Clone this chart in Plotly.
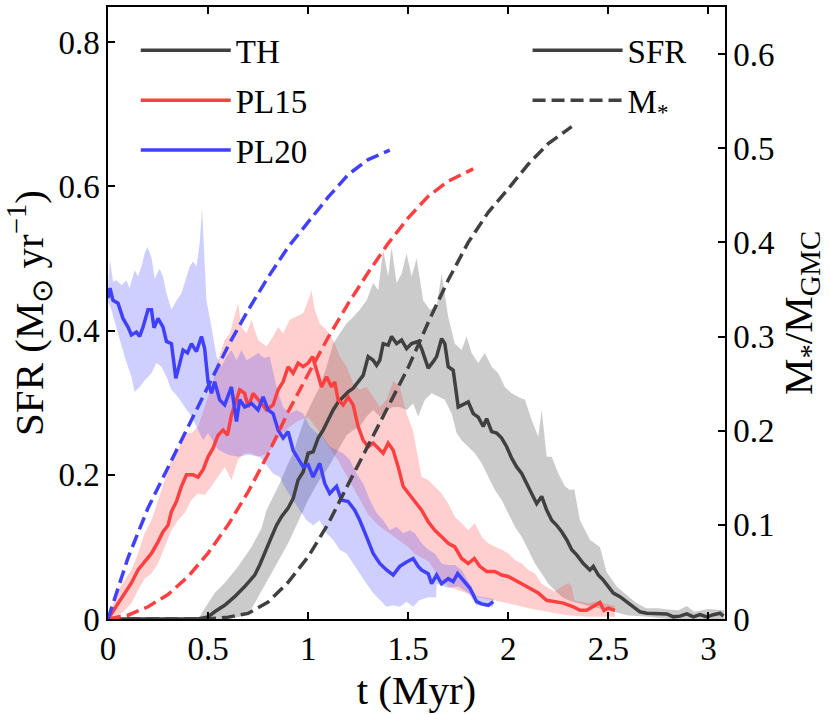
import plotly.graph_objects as go

# --- SFR (Msun/yr), solid lines ---
t_th = [0, 0.45, 0.5, 0.533, 0.583, 0.633, 0.683, 0.733, 0.758, 0.792, 0.817, 0.842, 0.867, 0.9, 0.925, 0.95,
        0.975, 1.0, 1.025, 1.05, 1.075, 1.1, 1.125, 1.15, 1.175, 1.2, 1.225, 1.25, 1.275, 1.3, 1.325, 1.342,
        1.358, 1.375, 1.4, 1.417, 1.442, 1.467, 1.492, 1.517, 1.55, 1.567, 1.6, 1.625, 1.642, 1.667, 1.683,
        1.7, 1.725, 1.75, 1.775, 1.8, 1.825, 1.85, 1.875, 1.892, 1.917, 1.942, 1.967, 1.992, 2.017, 2.042,
        2.067, 2.092, 2.117, 2.142, 2.167, 2.192, 2.217, 2.242, 2.267, 2.292, 2.317, 2.342, 2.375, 2.408,
        2.425, 2.45, 2.475, 2.5, 2.525, 2.558, 2.592, 2.625, 2.658, 2.692, 2.742, 2.792, 2.825, 2.858, 2.892,
        2.925, 2.958, 2.992, 3.025, 3.058, 3.075]
sfr_th = [0, 0, 0.003, 0.010, 0.019, 0.031, 0.045, 0.061, 0.075, 0.096, 0.114, 0.130, 0.142, 0.154, 0.167,
          0.193, 0.204, 0.230, 0.232, 0.251, 0.262, 0.276, 0.290, 0.301, 0.308, 0.315, 0.320, 0.329, 0.338,
          0.364, 0.359, 0.352, 0.359, 0.382, 0.380, 0.392, 0.382, 0.387, 0.375, 0.382, 0.385, 0.375, 0.348,
          0.357, 0.364, 0.389, 0.382, 0.350, 0.345, 0.294, 0.297, 0.301, 0.285, 0.280, 0.267, 0.278, 0.260,
          0.258, 0.251, 0.239, 0.223, 0.211, 0.202, 0.188, 0.174, 0.160, 0.170, 0.151, 0.137, 0.130, 0.121,
          0.110, 0.096, 0.089, 0.077, 0.068, 0.073, 0.061, 0.054, 0.045, 0.036, 0.031, 0.024, 0.017, 0.010,
          0.008, 0.008, 0.007, 0.003, 0.004, 0.007, 0.003, 0.006, 0.003, 0.006, 0.008, 0.004]

t_pl15 = [0, 0.05, 0.083, 0.117, 0.15, 0.183, 0.217, 0.25, 0.275, 0.3, 0.317, 0.342, 0.367, 0.392, 0.425, 0.45,
          0.475, 0.5, 0.525, 0.55, 0.575, 0.597, 0.617, 0.642, 0.658, 0.683, 0.7, 0.725, 0.75, 0.792, 0.825,
          0.85, 0.875, 0.9, 0.925, 0.95, 0.975, 1.0, 1.022, 1.042, 1.067, 1.092, 1.117, 1.133, 1.15, 1.175,
          1.2, 1.225, 1.25, 1.275, 1.3, 1.325, 1.35, 1.375, 1.4, 1.425, 1.45, 1.475, 1.508, 1.533, 1.567, 1.6,
          1.633, 1.667, 1.7, 1.733, 1.767, 1.8, 1.83, 1.858, 1.892, 1.933, 1.967, 2.0, 2.033, 2.067, 2.108,
          2.15, 2.192, 2.233, 2.275, 2.325, 2.358, 2.392, 2.425, 2.458, 2.478, 2.5, 2.533]
sfr_pl15 = [0, 0.022, 0.036, 0.050, 0.068, 0.079, 0.091, 0.107, 0.121, 0.130, 0.149, 0.163, 0.184, 0.200,
            0.200, 0.197, 0.207, 0.225, 0.237, 0.255, 0.262, 0.255, 0.283, 0.304, 0.318, 0.313, 0.294, 0.313,
            0.304, 0.290, 0.297, 0.318, 0.329, 0.350, 0.341, 0.355, 0.350, 0.355, 0.364, 0.345, 0.322, 0.336,
            0.322, 0.329, 0.304, 0.297, 0.308, 0.297, 0.267, 0.248, 0.239, 0.244, 0.237, 0.230, 0.244, 0.234,
            0.211, 0.184, 0.172, 0.163, 0.151, 0.135, 0.123, 0.114, 0.105, 0.100, 0.084, 0.077, 0.084, 0.073,
            0.066, 0.066, 0.061, 0.059, 0.054, 0.049, 0.043, 0.036, 0.026, 0.024, 0.022, 0.017, 0.012, 0.012,
            0.017, 0.023, 0.012, 0.015, 0.012]

t_pl20 = [0, 0.01, 0.025, 0.05, 0.075, 0.1, 0.117, 0.142, 0.158, 0.175, 0.2, 0.217, 0.23, 0.25, 0.275, 0.292,
          0.317, 0.339, 0.359, 0.375, 0.397, 0.417, 0.442, 0.467, 0.483, 0.5, 0.517, 0.533, 0.558, 0.583,
          0.617, 0.642, 0.658, 0.683, 0.717, 0.75, 0.775, 0.8, 0.825, 0.85, 0.875, 0.9, 0.925, 0.95, 0.975,
          1.0, 1.025, 1.058, 1.083, 1.108, 1.142, 1.167, 1.2, 1.233, 1.258, 1.292, 1.325, 1.358, 1.392, 1.425,
          1.458, 1.492, 1.525, 1.55, 1.567, 1.6, 1.617, 1.642, 1.667, 1.7, 1.725, 1.747, 1.775, 1.808, 1.842,
          1.867, 1.9, 1.925]
sfr_pl20 = [0.445, 0.459, 0.442, 0.438, 0.417, 0.405, 0.394, 0.398, 0.392, 0.405, 0.429, 0.429, 0.404, 0.417,
            0.405, 0.385, 0.382, 0.334, 0.355, 0.373, 0.369, 0.382, 0.371, 0.392, 0.375, 0.329, 0.313, 0.329,
            0.304, 0.297, 0.322, 0.274, 0.304, 0.294, 0.299, 0.290, 0.308, 0.290, 0.285, 0.262, 0.251, 0.260,
            0.234, 0.223, 0.211, 0.214, 0.197, 0.216, 0.188, 0.174, 0.184, 0.165, 0.163, 0.151, 0.137, 0.114,
            0.091, 0.077, 0.068, 0.061, 0.073, 0.079, 0.084, 0.073, 0.068, 0.063, 0.049, 0.061, 0.049, 0.056,
            0.052, 0.063, 0.054, 0.043, 0.024, 0.021, 0.019, 0.024]

# --- SFR spread (upper / lower envelopes) ---
th_hi_t = [0.45, 0.533, 0.583, 0.65, 0.717, 0.767, 0.792, 0.825, 0.858, 0.892, 0.925, 0.958, 0.992, 1.025,
           1.058, 1.092, 1.125, 1.158, 1.192, 1.225, 1.258, 1.292, 1.325, 1.35, 1.375, 1.4, 1.417, 1.442,
           1.467, 1.492, 1.517, 1.542, 1.575, 1.608, 1.642, 1.667, 1.683, 1.7, 1.733, 1.767, 1.792, 1.817,
           1.85, 1.883, 1.917, 1.95, 1.983, 2.017, 2.05, 2.083, 2.117, 2.15, 2.167, 2.192, 2.217, 2.25, 2.283,
           2.308, 2.33, 2.358, 2.408, 2.458, 2.492, 2.542, 2.592, 2.642, 2.69, 2.75, 2.81, 2.85, 2.892, 2.93,
           3.0, 3.08]
th_hi = [0, 0.036, 0.050, 0.073, 0.100, 0.126, 0.151, 0.170, 0.188, 0.211, 0.230, 0.258, 0.285, 0.304, 0.322,
         0.350, 0.382, 0.396, 0.410, 0.419, 0.429, 0.442, 0.466, 0.456, 0.512, 0.475, 0.516, 0.466, 0.479,
         0.507, 0.475, 0.500, 0.442, 0.429, 0.433, 0.479, 0.447, 0.419, 0.382, 0.373, 0.392, 0.369, 0.355,
         0.369, 0.350, 0.341, 0.322, 0.313, 0.308, 0.304, 0.276, 0.253, 0.290, 0.225, 0.225, 0.202, 0.184,
         0.179, 0.180, 0.137, 0.110, 0.100, 0.065, 0.045, 0.033, 0.022, 0.015, 0.015, 0.013, 0.012, 0.018,
         0.010, 0.014, 0.012]
th_lo_t = [0.45, 0.6, 0.658, 0.717, 0.758, 0.8, 0.85, 0.9, 0.95, 1.0, 1.05, 1.1, 1.15, 1.192, 1.225, 1.258,
           1.292, 1.325, 1.358, 1.392, 1.425, 1.458, 1.492, 1.525, 1.55, 1.583, 1.617, 1.65, 1.683, 1.717,
           1.742, 1.767, 1.8, 1.833, 1.867, 1.9, 1.933, 1.967, 2.0, 2.033, 2.067, 2.1, 2.133, 2.167, 2.2,
           2.233, 2.267, 2.3, 2.4, 2.5, 2.6, 2.7, 2.8, 3.08]
th_lo = [0, 0, 0.003, 0.014, 0.033, 0.055, 0.080, 0.105, 0.135, 0.165, 0.190, 0.210, 0.235, 0.255, 0.262,
         0.267, 0.281, 0.290, 0.281, 0.290, 0.294, 0.294, 0.290, 0.299, 0.281, 0.304, 0.313, 0.308, 0.304,
         0.285, 0.258, 0.248, 0.239, 0.230, 0.216, 0.197, 0.179, 0.165, 0.147, 0.128, 0.114, 0.096, 0.077,
         0.063, 0.049, 0.040, 0.031, 0.026, 0.018, 0.012, 0.005, 0.003, 0, 0]

pl15_hi_t = [0, 0.05, 0.083, 0.117, 0.15, 0.183, 0.217, 0.25, 0.283, 0.317, 0.35, 0.383, 0.417, 0.45, 0.483,
             0.517, 0.55, 0.583, 0.608, 0.633, 0.65, 0.667, 0.692, 0.717, 0.75, 0.792, 0.825, 0.85, 0.875,
             0.908, 0.942, 0.975, 1.0, 1.017, 1.033, 1.058, 1.092, 1.125, 1.158, 1.192, 1.225, 1.258, 1.292,
             1.325, 1.358, 1.392, 1.425, 1.458, 1.492, 1.525, 1.55, 1.567, 1.6, 1.633, 1.667, 1.7, 1.733,
             1.767, 1.8, 1.833, 1.867, 1.9, 1.933, 1.967, 2.0, 2.033, 2.067, 2.1, 2.133, 2.167, 2.2, 2.233,
             2.267, 2.3, 2.317, 2.33, 2.4, 2.45, 2.5, 2.533]
pl15_hi = [0, 0.040, 0.054, 0.068, 0.091, 0.119, 0.137, 0.165, 0.193, 0.221, 0.234, 0.258, 0.258, 0.267,
           0.294, 0.322, 0.359, 0.387, 0.396, 0.419, 0.438, 0.405, 0.396, 0.415, 0.387, 0.378, 0.392, 0.405,
           0.396, 0.415, 0.419, 0.424, 0.442, 0.456, 0.429, 0.410, 0.401, 0.387, 0.364, 0.350, 0.327, 0.318,
           0.322, 0.308, 0.294, 0.304, 0.330, 0.322, 0.285, 0.260, 0.220, 0.197, 0.193, 0.184, 0.174, 0.160,
           0.142, 0.133, 0.123, 0.133, 0.114, 0.105, 0.100, 0.096, 0.091, 0.082, 0.077, 0.068, 0.063, 0.049,
           0.043, 0.038, 0.045, 0.050, 0.045, 0.026, 0.022, 0.025, 0.020, 0.018]
pl15_lo_t = [0, 0.05, 0.083, 0.117, 0.15, 0.183, 0.217, 0.25, 0.283, 0.317, 0.35, 0.383, 0.417, 0.45, 0.483,
             0.517, 0.55, 0.583, 0.617, 0.65, 0.683, 0.717, 0.75, 0.8, 0.85, 0.9, 0.95, 1.0, 1.05, 1.1, 1.15,
             1.2, 1.25, 1.3, 1.35, 1.4, 1.45, 1.5, 1.533, 1.567, 1.6, 1.65, 1.7, 1.75, 1.8, 1.85, 1.9, 2.0,
             2.1, 2.2, 2.3, 2.4, 2.533]
pl15_lo = [0, 0.003, 0.012, 0.022, 0.040, 0.056, 0.063, 0.077, 0.100, 0.123, 0.137, 0.147, 0.165, 0.174,
           0.172, 0.184, 0.197, 0.211, 0.193, 0.221, 0.230, 0.230, 0.225, 0.230, 0.250, 0.265, 0.275, 0.280,
           0.262, 0.240, 0.220, 0.195, 0.170, 0.145, 0.130, 0.120, 0.110, 0.100, 0.090, 0.085, 0.080, 0.060,
           0.045, 0.040, 0.035, 0.030, 0.028, 0.022, 0.015, 0.010, 0.005, 0.003, 0.003]

pl20_hi_t = [0, 0.01, 0.025, 0.042, 0.067, 0.092, 0.108, 0.133, 0.15, 0.167, 0.183, 0.197, 0.217, 0.233,
             0.258, 0.275, 0.292, 0.317, 0.342, 0.367, 0.383, 0.408, 0.425, 0.442, 0.458, 0.47, 0.48, 0.492,
             0.517, 0.542, 0.567, 0.592, 0.617, 0.642, 0.667, 0.692, 0.725, 0.75, 0.78, 0.808, 0.842, 0.875,
             0.908, 0.942, 0.975, 1.008, 1.042, 1.075, 1.108, 1.142, 1.175, 1.208, 1.242, 1.275, 1.308, 1.342,
             1.375, 1.408, 1.442, 1.475, 1.508, 1.533, 1.567, 1.6, 1.633, 1.667, 1.7, 1.733, 1.767, 1.8, 1.842,
             1.925]
pl20_hi = [0.46, 0.498, 0.468, 0.470, 0.463, 0.470, 0.459, 0.484, 0.475, 0.489, 0.507, 0.516, 0.502, 0.472,
           0.486, 0.475, 0.452, 0.429, 0.442, 0.452, 0.466, 0.489, 0.496, 0.489, 0.521, 0.570, 0.512, 0.442,
           0.405, 0.364, 0.350, 0.364, 0.373, 0.359, 0.373, 0.359, 0.364, 0.369, 0.362, 0.364, 0.322, 0.294,
           0.285, 0.290, 0.285, 0.267, 0.258, 0.253, 0.239, 0.234, 0.230, 0.221, 0.202, 0.188, 0.165, 0.147,
           0.137, 0.123, 0.128, 0.119, 0.123, 0.119, 0.105, 0.096, 0.091, 0.077, 0.075, 0.075, 0.068, 0.052,
           0.032, 0.028]
pl20_lo_t = [0, 0.017, 0.05, 0.083, 0.117, 0.133, 0.158, 0.183, 0.217, 0.242, 0.267, 0.292, 0.317, 0.35,
             0.383, 0.417, 0.45, 0.475, 0.5, 0.55, 0.6, 0.65, 0.7, 0.758, 0.825, 0.858, 0.892, 0.925, 0.958,
             0.992, 1.025, 1.058, 1.092, 1.125, 1.158, 1.192, 1.225, 1.258, 1.292, 1.325, 1.358, 1.392, 1.425,
             1.458, 1.492, 1.525, 1.555, 1.6, 1.64, 1.642, 1.7, 1.75, 1.8, 1.842, 1.925]
pl20_lo = [0.44, 0.429, 0.396, 0.364, 0.336, 0.315, 0.322, 0.331, 0.341, 0.355, 0.350, 0.336, 0.318, 0.308,
           0.294, 0.281, 0.262, 0.248, 0.258, 0.235, 0.228, 0.225, 0.228, 0.225, 0.202, 0.197, 0.179, 0.165,
           0.151, 0.137, 0.130, 0.137, 0.119, 0.110, 0.096, 0.091, 0.077, 0.063, 0.049, 0.036, 0.026, 0.017,
           0.019, 0.017, 0.024, 0.017, 0.026, 0.030, 0.030, 0.049, 0.043, 0.045, 0.036, 0.019, 0.017]

# --- stellar mass fraction M*/M_GMC, dashed lines (right axis) ---
tm_th = [0, 0.5, 0.6, 0.7, 0.8, 0.9, 1.0, 1.1, 1.2, 1.3, 1.4, 1.5, 1.6, 1.7, 1.8, 1.9, 2.0, 2.1, 2.2, 2.317]
m_th = [0, 0, 0.002, 0.006, 0.018, 0.039, 0.066, 0.101, 0.143, 0.185, 0.225, 0.267, 0.315, 0.360, 0.400,
        0.432, 0.457, 0.483, 0.505, 0.523]
tm_pl15 = [0, 0.1, 0.2, 0.3, 0.4, 0.5, 0.6, 0.7, 0.8, 0.9, 1.0, 1.1, 1.2, 1.3, 1.4, 1.5, 1.6, 1.7, 1.825]
m_pl15 = [0, 0.004, 0.013, 0.026, 0.045, 0.070, 0.100, 0.135, 0.175, 0.220, 0.260, 0.299, 0.335, 0.368,
          0.399, 0.426, 0.449, 0.465, 0.478]
tm_pl20 = [0, 0.05, 0.1, 0.2, 0.3, 0.4, 0.5, 0.6, 0.7, 0.8, 0.9, 1.0, 1.1, 1.2, 1.3, 1.408]
m_pl20 = [0, 0.034, 0.065, 0.118, 0.162, 0.204, 0.247, 0.290, 0.328, 0.363, 0.395, 0.422, 0.448, 0.472,
          0.488, 0.498]

DARK = '#404040'
RED = '#ff4040'
BLUE = '#4040ff'
FONT = 'Liberation Serif'
LW = 3.5
DASH = '13px,6px'

runs = [
    ('TH', DARK, 'rgba(64,64,64,0.27)', t_th, sfr_th, th_hi_t, th_hi, th_lo_t, th_lo, tm_th, m_th),
    ('PL15', RED, 'rgba(255,64,64,0.25)', t_pl15, sfr_pl15, pl15_hi_t, pl15_hi, pl15_lo_t, pl15_lo,
     tm_pl15, m_pl15),
    ('PL20', BLUE, 'rgba(64,64,255,0.25)', t_pl20, sfr_pl20, pl20_hi_t, pl20_hi, pl20_lo_t, pl20_lo,
     tm_pl20, m_pl20),
]

fig = go.Figure()

# shaded spread first
for name, col, fill, t, s, ht, hi, lt, lo, tm, m in runs:
    fig.add_trace(go.Scatter(x=ht + lt[::-1], y=hi + lo[::-1], fill='toself', fillcolor=fill,
                             line=dict(width=0), mode='lines', showlegend=False, hoverinfo='skip'))

# SFR lines
for name, col, fill, t, s, ht, hi, lt, lo, tm, m in runs:
    fig.add_trace(go.Scatter(x=t, y=s, mode='lines', name=name, line=dict(color=col, width=LW),
                             legend='legend', legendgroup=name))

# stellar mass on the right axis
for name, col, fill, t, s, ht, hi, lt, lo, tm, m in runs:
    fig.add_trace(go.Scatter(x=tm, y=m, mode='lines', yaxis='y2', showlegend=False,
                             line=dict(color=col, width=LW, dash=DASH)))

# second legend: line style key
fig.add_trace(go.Scatter(x=[None], y=[None], mode='lines', name='SFR', legend='legend2',
                         legendgroup='sfr', line=dict(color=DARK, width=LW)))
fig.add_trace(go.Scatter(x=[None], y=[None], mode='lines', name='M<sub>*</sub>', legend='legend2',
                         legendgroup='mstar', line=dict(color=DARK, width=LW, dash=DASH)))

tick_font = dict(family=FONT, size=33, color='black')
title_font = dict(family=FONT, size=41, color='black')
axis_common = dict(showgrid=False, zeroline=False, showline=True, linecolor='black', linewidth=1.5,
                   ticks='inside', ticklen=7, tickwidth=1.5, tickcolor='black', automargin=False,
                   tickfont=tick_font)

fig.update_layout(
    width=830, height=714,
    margin=dict(l=108, r=105, t=7, b=95),
    plot_bgcolor='white', paper_bgcolor='white',
    font=dict(family=FONT, size=33, color='black'),
    xaxis=dict(range=[0, 3.083], dtick=0.5, mirror='ticks',
               title=dict(text='t (Myr)', font=title_font, standoff=8), **axis_common),
    yaxis=dict(range=[0, 0.849], dtick=0.2,
               title=dict(text='SFR (M<sub>⊙</sub> yr<sup>−1</sup>)', font=title_font, standoff=6),
               **axis_common),
    yaxis2=dict(range=[0, 0.65], dtick=0.1, overlaying='y', side='right',
                title=dict(text='M<sub>*</sub>/M<sub>GMC</sub>', font=title_font, standoff=4),
                **axis_common),
    legend=dict(x=0.045, y=0.975, xanchor='left', yanchor='top', bgcolor='rgba(0,0,0,0)',
                font=dict(family=FONT, size=33, color='black'), itemwidth=90, tracegroupgap=4,
                traceorder='grouped'),
    legend2=dict(x=0.68, y=0.975, xanchor='left', yanchor='top', bgcolor='rgba(0,0,0,0)',
                 font=dict(family=FONT, size=33, color='black'), itemwidth=90, tracegroupgap=4,
                 traceorder='grouped'),
)

fig.write_html("out.html", post_script="document.body.style.margin='0';",
               config={'displayModeBar': False})
